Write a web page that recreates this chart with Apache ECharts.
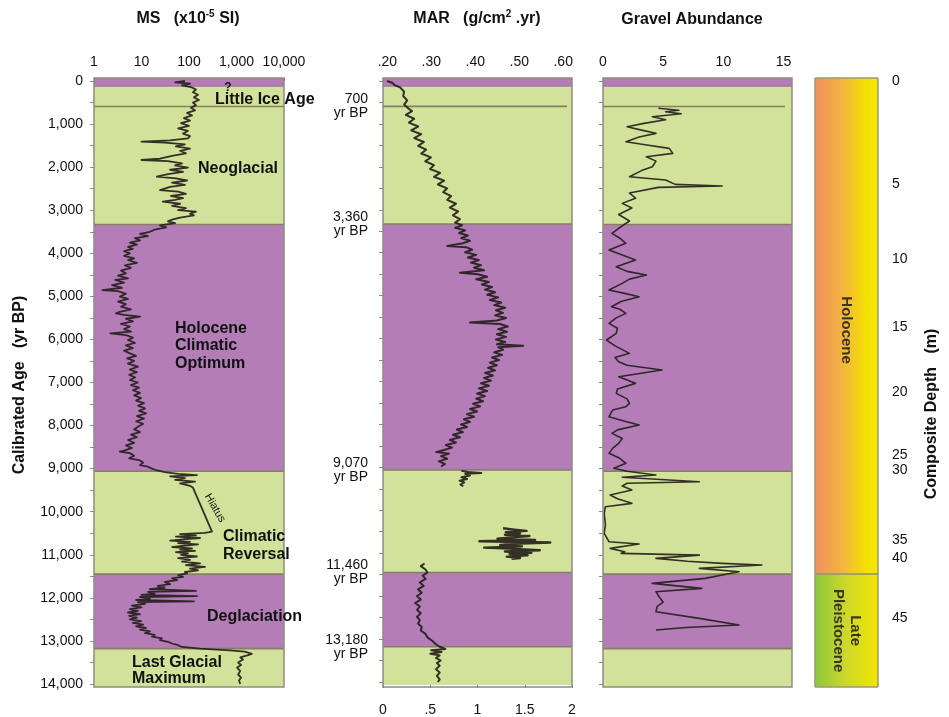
<!DOCTYPE html>
<html><head><meta charset="utf-8">
<script src="https://cdn.jsdelivr.net/npm/echarts@6/dist/echarts.min.js"></script>
<style>html,body{margin:0;padding:0;background:#fff}#c{width:949px;height:717px}</style>
</head><body><div id="c"></div>
<script>
const FONT = '"Liberation Sans", Arial, Helvetica, sans-serif';

// ---------- axes / ticks ----------
const ageTicks = [0,1000,2000,3000,4000,5000,6000,7000,8000,9000,10000,11000,12000,13000,14000];
const ageMinorTicks = [0,500,1000,1500,2000,2500,3000,3500,4000,4500,5000,5500,6000,6500,7000,7500,8000,8500,9000,9500,10000,10500,11000,11500,12000,12500,13000,13500,14000];
const marTopTicks = [0.2,0.3,0.4,0.5,0.6];
const gravelTicks = [0,5,10,15];
const depthLabels = ['0','5','10','15','20','25','30','35','40','45'];
const depthTickAges = [0,2391,4133,5712,7221,8684,9032,10657,11075,12468];

// ---------- climate zones (yr BP) ----------
const zoneStart = [-70, 120, 3330, 9060, 11450, 13180];
const zoneEnd   = [120, 3330, 9060, 11450, 13180, 14070];
const zoneKind  = [1, 0, 1, 0, 1, 0];          // 0 = green, 1 = purple
const zoneLineAges = [120, 590, 3330, 9060, 11450, 13180];
const boundaryAges = [590, 3330, 9060, 11450, 13180];
const boundaryLabels = ['700', '3,360', '9,070', '11,460', '13,180'];

// epochs for composite-depth bar
const epochStart = [-70, 11450];
const epochEnd = [11450, 14070];
const epochNames = ['Holocene', 'Late\nPleistocene'];

// ---------- MS (x10^-5 SI), log scale ----------
const msAge = [0,30,60,100,150,200,260,320,380,440,500,560,620,680,740,800,860,920,980,1040,1100,1160,1220,1280,1330,1380,1409,1430,1470,1520,1570,1620,1680,1740,1800,1834,1860,1910,1960,2010,2060,2110,2160,2221,2260,2310,2360,2410,2460,2531,2570,2620,2670,2720,2760,2802,2850,2900,2950,3000,3034,3080,3120,3170,3220,3260,3300,3350,3400,3450,3500,3550,3600,3650,3700,3750,3800,3850,3900,3950,4000,4060,4120,4156,4220,4280,4340,4400,4466,4520,4580,4620,4680,4740,4800,4853,4880,4940,5007,5060,5120,5180,5240,5300,5360,5395,5430,5472,5520,5580,5640,5700,5760,5820,5860,5900,5960,6014,6080,6140,6200,6260,6323,6380,6440,6500,6560,6633,6700,6760,6820,6880,6942,7000,7060,7120,7180,7240,7300,7360,7420,7480,7540,7600,7660,7716,7780,7840,7900,7960,8026,8090,8150,8210,8270,8335,8400,8460,8520,8580,8607,8640,8700,8760,8800,8860,8920,8955,9000,9032,9080,9120,9150,9180,9220,9260,9300,9340,9400,9440,10460,10490,10520,10550,10580,10610,10640,10670,10700,10730,10760,10790,10820,10850,10880,10910,10940,10970,11000,11040,11080,11120,11160,11200,11240,11280,11320,11360,11400,11430,11470,11510,11550,11590,11630,11680,11720,11760,11800,11840,11860,11900,11930,11960,11980,12020,12050,12080,12100,12140,12180,12220,12260,12300,12340,12380,12420,12460,12500,12540,12580,12620,12660,12700,12740,12780,12820,12860,12900,12940,12980,13020,13060,13100,13140,13180,13220,13250,13300,13330,13380,13430,13500,13560,13620,13700,13780,13850,13920,14000];
const msVal = [82,51,105,71,116,140,121,155,127,162,121,140,110,134,91,116,78,105,68,100,59,95,75,105,95,40,10,31,82,53,105,65,86,44,24.5,10,36,71,51,95,40,75,36,21,53,91,44,82,40,24.5,59,86,42,75,51,28,65,44,86,59,140,105,127,65,44,36,51,24.5,33,19,15,9.3,13.7,7.3,9.3,5.7,8.0,5.2,6.6,4.3,5.7,4.3,7.0,5.2,8.0,4.5,6.0,3.7,4.7,3.2,5.2,2.8,4.3,2.4,3.9,1.5,3.2,4.7,3.5,5.2,3.2,4.7,3.7,6.0,3.5,2.9,4.3,9.3,4.7,6.6,3.7,5.7,4.3,6.0,2.2,4.7,6.6,5.2,7.3,4.7,6.6,4.3,5.7,7.7,5.0,7.0,5.2,8.4,5.7,8.0,5.5,7.3,5.7,8.4,6.0,8.9,6.6,9.3,7.0,9.8,7.7,11.3,8.4,11.9,8.9,12.4,8.0,11.3,7.7,10.8,8.4,7.0,9.3,6.0,8.0,5.2,7.0,4.7,6.3,4.3,3.5,5.7,7.0,5.5,8.9,10.8,9.3,13.7,16.6,20,31,59,147,40,82,51,134,65,105,121,305,217,65,140,53,171,75,40,105,59,155,78,44,116,65,134,53,95,68,147,59,105,71,171,86,217,105,155,82,91,59,75,44,56,31,40,22,31,15,140,13.7,19,10,147,9.3,15,7.7,127,8.4,11.9,6.3,10,5.7,8.4,5.2,9.3,5.5,8.0,5.7,9.8,6.6,10.8,7.7,12.4,9.3,15,11.9,19,16.6,27,24.5,36,44,59,71,171,730,1500,2100,1750,1200,1370,1080,1250,1030,1200,1080,1250,1130,1200];

// ---------- MAR (g/cm2.yr), upper section on top scale ----------
const marUpperAge = [0,40,100,150,250,350,450,550,650,700,790,880,970,1060,1150,1240,1330,1420,1510,1600,1690,1780,1870,1960,2050,2140,2230,2320,2410,2500,2590,2680,2770,2860,2950,3040,3130,3220,3300,3360,3420,3480,3540,3600,3660,3720,3780,3846,3870,3930,3990,4050,4110,4170,4230,4290,4350,4410,4466,4500,4560,4620,4680,4740,4800,4860,4920,4980,5040,5100,5160,5220,5280,5340,5400,5460,5520,5580,5627,5660,5720,5780,5840,5900,5960,6020,6080,6130,6169,6200,6260,6320,6380,6440,6500,6560,6620,6680,6740,6800,6860,6920,6980,7040,7100,7160,7220,7280,7340,7400,7460,7520,7580,7640,7700,7760,7820,7880,7940,8000,8060,8120,8180,8240,8300,8360,8420,8480,8540,8600,8645,8680,8740,8800,8860,8920,8980];
const marUpperVal = [0.199,0.211,0.217,0.229,0.238,0.236,0.245,0.238,0.249,0.256,0.242,0.261,0.249,0.270,0.254,0.277,0.261,0.283,0.270,0.288,0.277,0.299,0.286,0.306,0.297,0.320,0.306,0.329,0.315,0.336,0.327,0.345,0.336,0.356,0.342,0.361,0.349,0.365,0.354,0.370,0.354,0.377,0.363,0.383,0.368,0.388,0.372,0.336,0.379,0.393,0.377,0.402,0.383,0.408,0.390,0.413,0.397,0.420,0.365,0.406,0.427,0.402,0.431,0.415,0.438,0.422,0.445,0.427,0.452,0.433,0.459,0.443,0.468,0.447,0.463,0.445,0.470,0.449,0.388,0.456,0.474,0.452,0.472,0.449,0.470,0.447,0.468,0.449,0.509,0.452,0.463,0.443,0.461,0.438,0.454,0.433,0.449,0.429,0.445,0.422,0.440,0.420,0.436,0.413,0.431,0.408,0.427,0.404,0.422,0.402,0.4175,0.395,0.411,0.388,0.404,0.381,0.397,0.374,0.388,0.3675,0.381,0.358,0.372,0.349,0.365,0.342,0.356,0.333,0.347,0.3265,0.311,0.340,0.322,0.336,0.317,0.331,0.322];

// ---------- MAR lower sections on bottom scale (0-2) ----------
const marLowAAge = [9080,9110,9130,9150,9190,9230,9270,9310,9350,9400,9440];
const marLowAVal = [0.83,0.90,1.04,0.87,0.92,0.83,0.89,0.81,0.86,0.82,0.85];
const marLowBAge = [10420,10450,10480,10510,10540,10570,10600,10630,10660,10690,10720,10750,10780,10810,10840,10870,10900,10930,10960,10990,11020,11050,11080,11110,11130];
const marLowBVal = [1.27,1.39,1.52,1.30,1.45,1.29,1.55,1.36,1.21,1.61,1.02,1.77,1.39,1.24,1.47,1.07,1.39,1.66,1.29,1.57,1.34,1.53,1.31,1.45,1.36];
const marLowCAge = [11240,11300,11380,11450,11520,11600,11680,11760,11840,11920,12000,12080,12160,12240,12320,12400,12480,12560,12640,12720,12800,12880,12960,13040,13120,13180,13230,13260,13300,13340,13380,13440,13500,13560,13620,13700,13780,13860,13940,14000];
const marLowCVal = [0.44,0.40,0.45,0.47,0.42,0.45,0.39,0.43,0.37,0.41,0.36,0.40,0.34,0.39,0.36,0.40,0.36,0.39,0.37,0.41,0.40,0.45,0.47,0.52,0.56,0.60,0.66,0.51,0.62,0.50,0.60,0.56,0.61,0.57,0.60,0.56,0.60,0.57,0.60,0.58];

// ---------- Gravel abundance ----------
const gravelAge = [634,680,712,760,828,900,983,1060,1140,1215,1300,1409,1480,1564,1680,1757,1860,1990,2080,2221,2300,2400,2439,2470,2600,2720,2841,2950,3100,3250,3380,3537,3650,3769,3923,4040,4156,4311,4420,4504,4600,4698,4853,4930,5007,5120,5240,5300,5395,5500,5627,5740,5860,6014,6150,6323,6420,6517,6600,6710,6865,7020,7150,7252,7380,7485,7562,7640,7794,7900,7987,8100,8181,8300,8413,8530,8645,8760,8877,8993,9060,9148,9200,9303,9340,9404,9497,9613,9700,9806,9884,10038,10300,10503,10697,10751,10852,10930,10968,11007,11084,11150,11200,11238,11316,11393,11470,11548,11664,11780,11857,11950,12100,12200,12321,12476,12631,12690,12747];
const gravelVal = [4.6,6.3,5.2,6.5,4.1,5.2,3.4,2.0,3.2,4.4,3.0,1.9,3.5,5.5,5.8,3.6,4.4,4.1,3.2,2.2,5.2,6.0,9.9,4.6,2.2,2.7,1.6,2.4,1.3,2.2,1.5,0.75,1.4,1.9,0.5,1.6,2.7,1.1,2.0,3.6,2.2,1.6,0.5,1.8,3.0,1.5,0.7,1.4,1.9,1.1,0.5,1.2,1.1,0.3,1.0,2.2,1.0,1.3,2.0,4.9,1.3,2.7,1.2,1.1,2.0,2.2,1.9,0.8,0.5,1.8,3.0,1.2,0.75,1.6,1.3,0.8,0.5,1.4,1.9,0.9,2.0,4.4,1.6,8.0,2.0,1.6,2.4,0.6,1.2,2.4,0.2,0.1,0.2,0.1,0.5,3.0,0.6,1.8,1.5,8.0,4.4,7.0,9.9,13.2,8.0,11.3,9.9,8.5,4.1,8.2,4.4,4.6,5.0,4.5,4.4,8.0,11.3,6.9,4.4];

// ---------- styling ----------
const GREEN = '#d3e29b', PURPLE = '#b47db8', LINE = '#221d1a', EDGE = '#867f62', FRAME = '#8e8c80';
const ZONE_COLORS = [GREEN, PURPLE];
const AGE_MIN = -70, AGE_MAX = 14070;
const GRIDS = [
  {left: 94, top: 78, width: 190, height: 609},
  {left: 383, top: 78, width: 189, height: 609},
  {left: 603, top: 78, width: 189, height: 609},
  {left: 815, top: 78, width: 63, height: 609}
];

const chart = echarts.init(document.getElementById('c'), null, {renderer: 'canvas'});

function pairs(a, v) { return a.map((t, i) => [v[i], t]); }

function zoneSeries(xIdx, yIdx, xRef) {
  return {
    type: 'custom', xAxisIndex: xIdx, yAxisIndex: yIdx, silent: true, z: 1,
    renderItem: (params, api) => {
      const cs = params.coordSys;
      const a = api.coord([xRef, api.value(1)])[1];
      const b = api.coord([xRef, api.value(2)])[1];
      return {type: 'rect', shape: {x: cs.x, y: a, width: cs.width, height: b - a},
              style: {fill: ZONE_COLORS[api.value(3)]}};
    },
    encode: {x: 0, y: [1, 2]},
    data: zoneStart.map((s, i) => [xRef, s, zoneEnd[i], zoneKind[i]])
  };
}
function edgeSeries(xIdx, yIdx, xRef, shorten) {
  return {
    type: 'custom', xAxisIndex: xIdx, yAxisIndex: yIdx, silent: true, z: 2,
    renderItem: (params, api) => {
      const cs = params.coordSys;
      const y = api.coord([xRef, api.value(1)])[1];
      const idx = params.dataIndex;
      const w = (idx === 1) ? cs.width - shorten : cs.width;
      return {type: 'line', shape: {x1: cs.x, y1: y, x2: cs.x + w, y2: y},
              style: {stroke: idx === 0 ? '#9a6a9c' : EDGE, lineWidth: idx === 0 ? 1 : 1.6}};
    },
    encode: {x: 0, y: 1},
    data: zoneLineAges.map(a => [xRef, a])
  };
}
function lineSeries(xIdx, yIdx, data, w) {
  return {type: 'line', xAxisIndex: xIdx, yAxisIndex: yIdx, data, showSymbol: false, symbol: 'none',
          silent: true, z: 5, lineStyle: {width: w || 1.8, color: LINE, opacity: 0.9, join: 'round'}};
}

const tickLabel = {fontFamily: FONT, fontSize: 14, color: '#111'};
function yAge(gridIndex, extra) {
  return Object.assign({
    gridIndex, type: 'value', inverse: true, min: AGE_MIN, max: AGE_MAX,
    axisLine: {show: false}, splitLine: {show: false},
    axisTick: {show: true, length: 4, customValues: ageMinorTicks, lineStyle: {color: '#888', width: 1}},
    axisLabel: {show: false}
  }, extra);
}

const option = {
  animation: false,
  backgroundColor: '#fff',
  grid: GRIDS.map(g => Object.assign({containLabel: false}, g)),
  xAxis: [
    {gridIndex: 0, type: 'log', logBase: 10, min: 1, max: 10000, position: 'top',
     axisLine: {show: false}, splitLine: {show: false},
     axisTick: {show: true, length: 3, lineStyle: {color: '#777'}},
     axisLabel: Object.assign({margin: 9, showMinLabel: true, showMaxLabel: true,
       formatter: v => Number(v).toLocaleString('en-US')}, tickLabel)},
    {gridIndex: 1, type: 'value', min: 0.19, max: 0.62, position: 'top',
     axisLine: {show: false}, splitLine: {show: false},
     axisTick: {show: true, length: 3, customValues: marTopTicks, lineStyle: {color: '#777'}},
     axisLabel: Object.assign({margin: 9, customValues: marTopTicks,
       formatter: v => Number(v).toFixed(2).slice(1)}, tickLabel)},
    {gridIndex: 1, type: 'value', min: 0, max: 2, interval: 0.5, position: 'bottom',
     axisLine: {show: false}, splitLine: {show: false},
     axisTick: {show: true, length: 3, lineStyle: {color: '#777'}},
     axisLabel: Object.assign({margin: 18, showMinLabel: true, showMaxLabel: true,
       formatter: v => (v > 0 && v < 1) ? String(v).slice(1) : String(v)}, tickLabel)},
    {gridIndex: 2, type: 'value', min: 0, max: 15.7, position: 'top',
     axisLine: {show: false}, splitLine: {show: false},
     axisTick: {show: true, length: 3, customValues: gravelTicks, lineStyle: {color: '#777'}},
     axisLabel: Object.assign({margin: 9, customValues: gravelTicks}, tickLabel)},
    {gridIndex: 3, type: 'value', min: 0, max: 1, show: false}
  ],
  yAxis: [
    yAge(0, {axisLabel: Object.assign({show: true, margin: 11, customValues: ageTicks,
      formatter: v => Number(v).toLocaleString('en-US')}, tickLabel)}),
    yAge(1, {axisLabel: Object.assign({show: true, margin: 15, customValues: boundaryAges,
      lineHeight: 14, padding: [4, 0, 0, 0], align: 'right',
      formatter: v => boundaryLabels[boundaryAges.indexOf(v)] + '\nyr BP'}, tickLabel)}),
    yAge(2, {}),
    {gridIndex: 3, type: 'value', inverse: true, min: AGE_MIN, max: AGE_MAX, position: 'right',
     axisLine: {show: false}, splitLine: {show: false},
     axisTick: {show: true, length: 7, customValues: depthTickAges, lineStyle: {color: '#999', width: 1}},
     axisLabel: Object.assign({show: true, margin: 14, customValues: depthTickAges,
       formatter: v => depthLabels[depthTickAges.indexOf(v)]}, tickLabel)}
  ],
  series: [
    zoneSeries(0, 0, 1), edgeSeries(0, 0, 1, 0),
    zoneSeries(1, 1, 0.2), edgeSeries(1, 1, 0.2, 5),
    zoneSeries(3, 2, 1), edgeSeries(3, 2, 1, 7),
    {
      type: 'custom', xAxisIndex: 4, yAxisIndex: 3, silent: true, z: 1,
      renderItem: (params, api) => {
        const cs = params.coordSys;
        const a = api.coord([0.5, api.value(1)])[1];
        const b = api.coord([0.5, api.value(2)])[1];
        const k = api.value(3);
        const stops = k === 0
          ? [{offset: 0, color: '#ef8f5c'}, {offset: 0.45, color: '#f3b640'}, {offset: 0.8, color: '#f4e000'}, {offset: 1, color: '#f3e800'}]
          : [{offset: 0, color: '#8cc63f'}, {offset: 0.5, color: '#cfd82a'}, {offset: 1, color: '#f1e600'}];
        return {type: 'group', children: [
          {type: 'rect', shape: {x: cs.x, y: a, width: cs.width, height: b - a},
           style: {fill: new echarts.graphic.LinearGradient(0, 0, 1, 0, stops), stroke: '#9a9a70', lineWidth: 1}},
          {type: 'text', x: cs.x + cs.width / 2, y: (a + b) / 2 + (k === 0 ? 4 : 0), rotation: -Math.PI / 2,
           style: {text: epochNames[k], fill: '#3a3520', font: 'bold 15px ' + FONT, lineHeight: 17,
                   align: 'center', verticalAlign: 'middle'}}
        ]};
      },
      encode: {x: 0, y: [1, 2]},
      data: epochStart.map((s, i) => [0.5, s, epochEnd[i], i])
    },
    lineSeries(0, 0, pairs(msAge, msVal)),
    lineSeries(1, 1, pairs(marUpperAge, marUpperVal), 2),
    lineSeries(2, 1, pairs(marLowAAge, marLowAVal), 2),
    lineSeries(2, 1, pairs(marLowBAge, marLowBVal), 2.4),
    lineSeries(2, 1, pairs(marLowCAge, marLowCVal), 2),
    lineSeries(3, 2, pairs(gravelAge, gravelVal), 1.6)
  ]
};
chart.setOption(option);

// ---------- texts & frames ----------
const bold16 = 'bold 16px ' + FONT;
function txt(x, y, text, opts) {
  return Object.assign({type: 'text', x, y, z: 50, silent: true,
    style: Object.assign({text, font: bold16, fill: '#111', align: 'left', verticalAlign: 'middle'}, (opts && opts.style) || {})},
    opts && opts.rotation !== undefined ? {rotation: opts.rotation} : {});
}
const richTitle = {
  b: {fontFamily: FONT, fontSize: 16, fontWeight: 'bold', fill: '#111', lineHeight: 20},
  s: {fontFamily: FONT, fontSize: 10, fontWeight: 'bold', fill: '#111', lineHeight: 20, verticalAlign: 'top'}
};
const graphics = [
  {type: 'text', x: 188, y: 19, z: 50, silent: true,
   style: {text: '{b|MS   (x10}{s|-5}{b| SI)}', rich: richTitle, align: 'center', verticalAlign: 'middle'}},
  {type: 'text', x: 477, y: 19, z: 50, silent: true,
   style: {text: '{b|MAR   (g/cm}{s|2}{b| .yr)}', rich: richTitle, align: 'center', verticalAlign: 'middle'}},
  txt(692, 20, 'Gravel Abundance', {style: {align: 'center'}}),
  txt(20, 385, 'Calibrated Age   (yr BP)', {rotation: Math.PI / 2, style: {align: 'center'}}),
  txt(932, 414, 'Composite Depth   (m)', {rotation: Math.PI / 2, style: {align: 'center'}}),
  txt(228, 88, '?', {style: {align: 'center', font: 'bold 12px ' + FONT}}),
  txt(215, 100, 'Little Ice Age'),
  txt(198, 169, 'Neoglacial'),
  txt(175, 346, 'Holocene\nClimatic\nOptimum', {style: {lineHeight: 17.5}}),
  txt(215, 508, 'Hiatus', {rotation: -Math.PI / 3, style: {align: 'center', font: '11px ' + FONT}}),
  txt(223, 546, 'Climatic\nReversal', {style: {lineHeight: 18}}),
  txt(207, 617, 'Deglaciation'),
  txt(132, 671, 'Last Glacial\nMaximum', {style: {lineHeight: 16}})
];
GRIDS.slice(0, 3).forEach(g => graphics.push({type: 'rect', z: 40, silent: true,
  shape: {x: g.left, y: g.top, width: g.width, height: g.height},
  style: {fill: 'none', stroke: FRAME, lineWidth: 1.5}}));
chart.setOption({graphic: graphics});
</script>
</body></html>
